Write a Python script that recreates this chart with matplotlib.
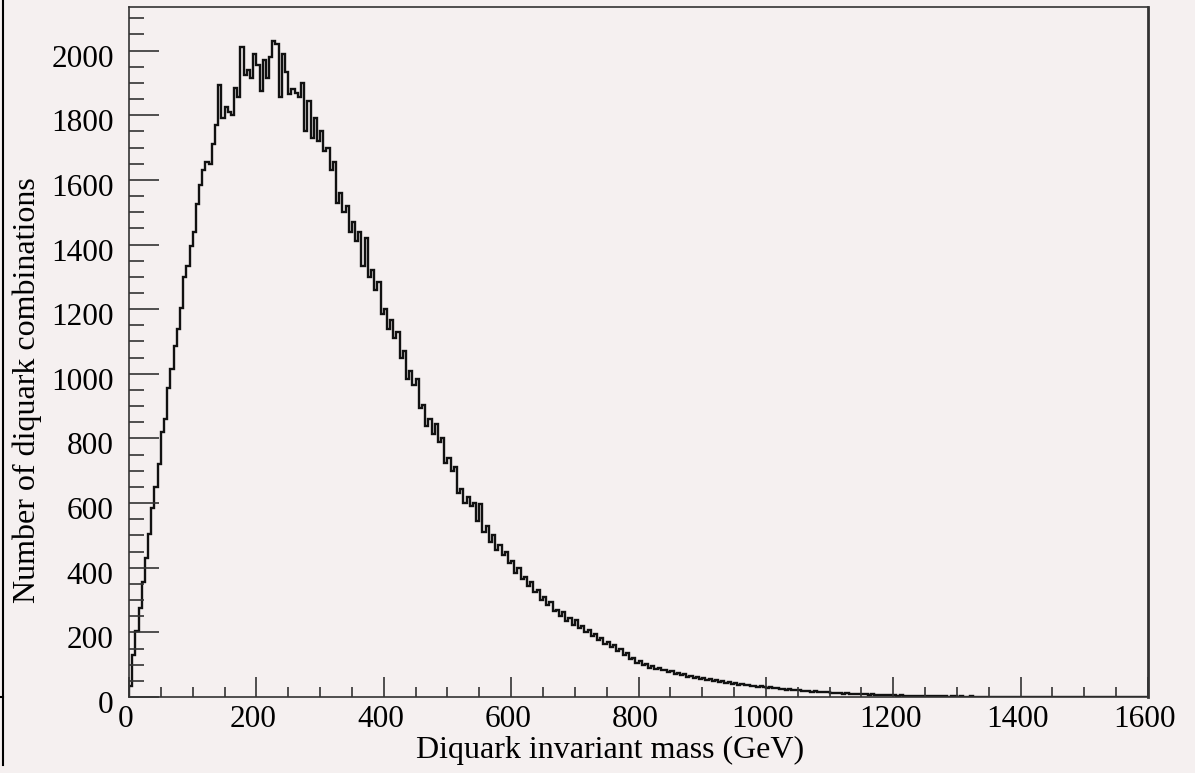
import matplotlib
matplotlib.use("Agg")
import matplotlib.pyplot as plt
import matplotlib.transforms as mtransforms
from matplotlib.lines import Line2D
import numpy as np

# histogram: 5 GeV bins from 0 to 1600 GeV, counts
bin_width = 5
counts = [
    # 0 - 95
    35, 130, 205, 275, 355, 430, 505, 585, 650, 720, 820, 860, 955, 1015, 1085, 1140, 1205, 1300, 1335, 1395,
    # 100 - 195
    1440, 1525, 1585, 1630, 1655, 1650, 1710, 1770, 1895, 1790, 1825, 1810, 1800, 1885, 1855, 2010, 1925, 1940, 1915, 1990,
    # 200 - 295
    1955, 1875, 1970, 1915, 1980, 2030, 2020, 1855, 1990, 1935, 1865, 1880, 1870, 1855, 1900, 1750, 1845, 1730, 1790, 1720,
    # 300 - 395
    1750, 1690, 1700, 1630, 1655, 1530, 1560, 1500, 1520, 1440, 1470, 1410, 1440, 1335, 1420, 1300, 1320, 1260, 1285, 1185,
    # 400 - 495
    1200, 1140, 1165, 1110, 1130, 1050, 1070, 985, 1010, 965, 985, 895, 905, 840, 860, 815, 845, 790, 800, 725,
    # 500 - 595
    740, 700, 712, 630, 645, 600, 620, 590, 600, 545, 598, 510, 530, 480, 500, 455, 470, 440, 450, 415,
    # 600 - 695
    420, 385, 400, 365, 372, 345, 355, 325, 332, 300, 310, 285, 295, 265, 270, 252, 262, 236, 245, 222,
    # 700 - 795
    238, 212, 220, 200, 208, 190, 195, 175, 182, 165, 170, 155, 160, 142, 148, 130, 136, 118, 122, 106,
    # 800 - 895
    110, 98, 102, 90, 96, 86, 90, 82, 85, 76, 80, 72, 75, 68, 70, 62, 66, 60, 62, 56,
    # 900 - 995
    58, 53, 55, 50, 52, 46, 49, 43, 45, 41, 43, 38, 40, 36, 37, 33, 35, 31, 33, 30,
    # 1000 - 1095
    29, 30, 27, 28, 25, 26, 23, 24, 22, 23, 21, 20, 19, 20, 17, 18, 16, 15, 16, 14,
    # 1100 - 1195
    13, 12, 13, 11, 10, 11, 9, 10, 9, 8, 9, 8, 7, 8, 6, 7, 6, 5, 6, 5,
    # 1200 - 1295
    5, 4, 5, 4, 4, 3, 4, 3, 3, 3, 2, 3, 2, 2, 3, 2, 2, 1, 2, 2,
    # 1300 - 1395
    1, 2, 1, 1, 2, 1, 1, 1, 0, 1, 1, 0, 1, 1, 0, 1, 0, 0, 1, 0,
    # 1400 - 1495
    0, 1, 0, 0, 1, 0, 0, 0, 1, 0, 0, 0, 0, 1, 0, 0, 0, 0, 0, 0,
    # 1500 - 1595
    0, 0, 1, 0, 0, 0, 0, 0, 0, 0, 0, 0, 0, 0, 0, 0, 0, 0, 0, 0,
]
edges = np.arange(len(counts) + 1) * bin_width

x_ticks = [0, 200, 400, 600, 800, 1000, 1200, 1400, 1600]
y_ticks = [0, 200, 400, 600, 800, 1000, 1200, 1400, 1600, 1800, 2000]

bg = '#f5f0f0'
plt.rcParams['font.family'] = ['Liberation Serif', 'DejaVu Serif']

fig = plt.figure(figsize=(11.95, 7.73), dpi=100, facecolor=bg)
ax = fig.add_axes([129 / 1195, 1 - 697 / 773, 1019 / 1195, 690 / 773], facecolor=bg)

ax.stairs(counts, edges, color='#111111', linewidth=1.7)

ax.set_xlim(0, 1600)
ax.set_ylim(0, 2135)

ax.set_xticks(x_ticks)
ax.set_xticks(np.arange(0, 1601, 50), minor=True)
ax.set_yticks(y_ticks)
ax.set_yticks(np.arange(0, 2131, 50), minor=True)

ax.tick_params(axis='y', which='major', direction='in', length=21.5, width=1.2, pad=11, labelsize=22.5, color='#333333')
ax.tick_params(axis='y', which='minor', direction='in', length=10.8, width=1.2, color='#333333')
ax.tick_params(axis='x', which='major', direction='in', length=14.4, width=1.2, pad=6, labelsize=22.5, color='#333333')
ax.tick_params(axis='x', which='minor', direction='in', length=7.2, width=1.2, color='#333333')
ax.tick_params(top=False, right=False)

for side in ['left', 'bottom', 'top']:
    ax.spines[side].set_color('#333333')
    ax.spines[side].set_linewidth(1.2)
ax.spines['right'].set_color('#333333')
ax.spines['right'].set_linewidth(2.0)

# ROOT-like label offsets
shift_y = mtransforms.ScaledTranslation(0, -5 / 100, fig.dpi_scale_trans)
for lab in ax.get_yticklabels():
    lab.set_transform(lab.get_transform() + shift_y)
shift_x = mtransforms.ScaledTranslation(-3 / 100, 0, fig.dpi_scale_trans)
for lab in ax.get_xticklabels():
    lab.set_transform(lab.get_transform() + shift_x)

fig.text(610 / 1195, 1 - 750 / 773, 'Diquark invariant mass (GeV)', ha='center', va='center', fontsize=23)
fig.text(27 / 1195, 1 - 390 / 773, 'Number of diquark combinations', ha='center', va='center',
         rotation=90, fontsize=23)

# thin border line left over from the cropped page
fig.add_artist(Line2D([3 / 1195, 3 / 1195], [0.01, 1.0], transform=fig.transFigure, color='black', lw=1.5))
fig.add_artist(Line2D([0, 3 / 1195], [1 - 697 / 773, 1 - 697 / 773], transform=fig.transFigure, color='black', lw=1.5))

plt.savefig('out.png', dpi=100, facecolor=bg)
